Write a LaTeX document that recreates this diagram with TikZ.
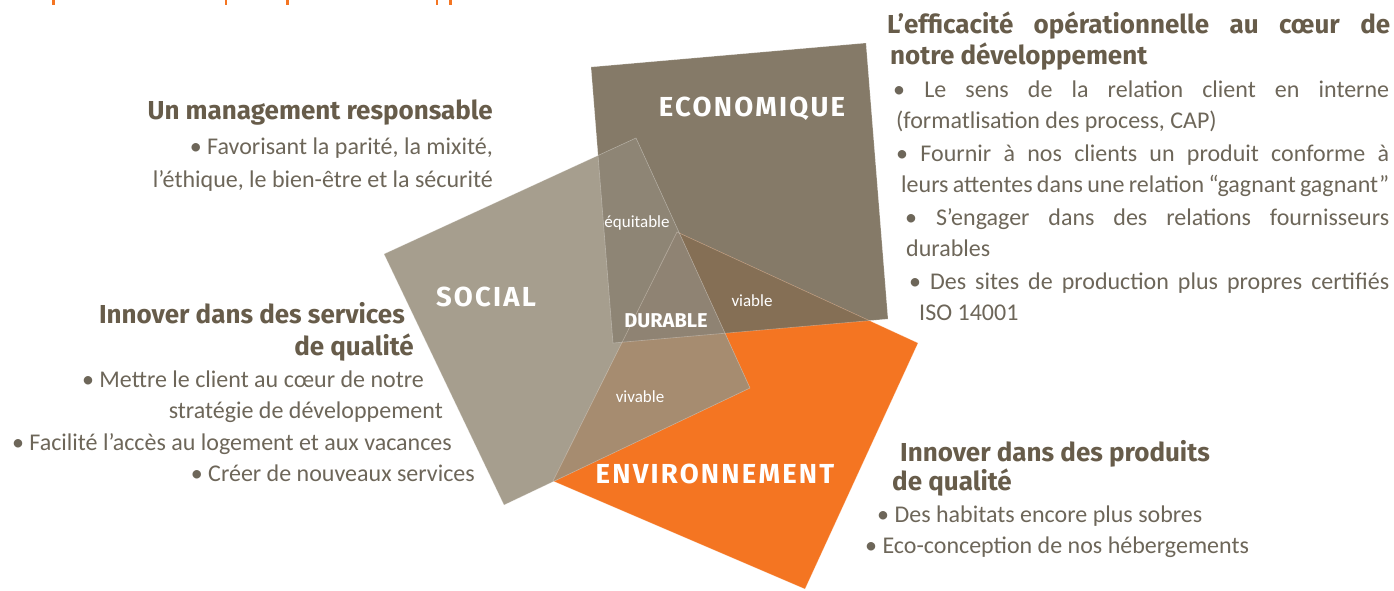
\documentclass[tikz,border=0pt]{standalone}
\usepackage{fontspec}
\setmainfont{Carlito}
\newfontfamily\headfont{Fira Sans}
\newfontfamily\labelfont{Fira Sans}[LetterSpace=8.0]
\usepackage{tikz}

\definecolor{socgray}{HTML}{A69E8E}
\definecolor{ecobrown}{HTML}{857A68}
\definecolor{envorange}{HTML}{F47522}
\definecolor{equitc}{HTML}{8E8575}
\definecolor{viablec}{HTML}{856F55}
\definecolor{vivablec}{HTML}{A68C70}
\definecolor{durablec}{HTML}{8F8373}
\definecolor{headc}{HTML}{675C4A}
\definecolor{bodyc}{HTML}{6D6659}

\tikzset{
	head/.style={font=\headfont\bfseries\fontsize{26}{30}\selectfont, text=headc, inner sep=0pt},
	body/.style={font=\fontsize{24}{28}\selectfont, text=bodyc, inner sep=0pt},
	biglabel/.style={font=\labelfont\bfseries\fontsize{27.5}{30}\selectfont, text=white, inner sep=0pt},
	midlabel/.style={font=\headfont\bfseries\fontsize{20}{22}\selectfont, text=white, inner sep=0pt},
	smalllabel/.style={font=\fontsize{17}{20}\selectfont, text=white, inner sep=0pt},
	rim/.style={white, opacity=0.3, line width=0.6pt}
}

\begin{document}
\begin{tikzpicture}[x=1pt,y=-1pt]
	\useasboundingbox (0,0) rectangle (1394,590);
	
	%corners of the three squares
	\coordinate (s1) at (384,254);	%social
	\coordinate (s2) at (636,138);
	\coordinate (s3) at (750,388);
	\coordinate (s4) at (504,505);
	\coordinate (e1) at (591,67);	%economique
	\coordinate (e2) at (866,43);
	\coordinate (e3) at (888,319);
	\coordinate (e4) at (613,343);
	\coordinate (v1) at (677,232);	%environnement
	\coordinate (v2) at (918,343);
	\coordinate (v3) at (805,589);
	\coordinate (v4) at (553,481);
	
	%remains of the title, cut at the top
	\foreach \xx in {52,224.5,286,435.5,449}
		\fill[envorange] (\xx,0) rectangle ++(2.7,5);
	
	%plain squares
	\fill[ecobrown] (e1)--(e2)--(e3)--(e4)--cycle;
	\fill[envorange] (v1)--(v2)--(v3)--(v4)--cycle;
	\fill[socgray] (s1)--(s2)--(s3)--(s4)--cycle;
	
	%overlaps
	\begin{scope}
		\clip (e1)--(e2)--(e3)--(e4)--cycle;
		\fill[viablec] (v1)--(v2)--(v3)--(v4)--cycle;	%viable
	\end{scope}
	\begin{scope}
		\clip (s1)--(s2)--(s3)--(s4)--cycle;
		\fill[equitc] (e1)--(e2)--(e3)--(e4)--cycle;	%equitable
		\fill[vivablec] (v1)--(v2)--(v3)--(v4)--cycle;	%vivable
		\clip (e1)--(e2)--(e3)--(e4)--cycle;
		\fill[durablec] (v1)--(v2)--(v3)--(v4)--cycle;	%durable
	\end{scope}
	
	%thin light rims
	\draw[rim] (s1)--(s2)--(s3)--(s4)--cycle;
	\draw[rim] (e1)--(e2)--(e3)--(e4)--cycle;
	\draw[rim] (v1)--(v2)--(v3)--(v4)--cycle;
	
	%names inside the squares
	\node[biglabel, anchor=base] (ecolabel) at (752,116) {ECONOMIQUE};
	\node[biglabel, anchor=base] (soclabel) at (486,306) {SOCIAL};
	\node[biglabel, anchor=base] (envlabel) at (715,483) {ENVIRONNEMENT};
	\node[midlabel, anchor=base] (durlabel) at (666,327) {DURABLE};
	\node[smalllabel, anchor=base] (equlabel) at (637,227) {équitable};
	\node[smalllabel, anchor=base] (vialabel) at (752,306) {viable};
	\node[smalllabel, anchor=base] (vivlabel) at (640,402) {vivable};
	
	%top left
	\node[head, anchor=base east] (mgmthead) at (493,119) {Un management responsable};
	\node[body, anchor=base east] (mgmtline1) at (493,154) {• Favorisant la parité, la mixité,};
	\node[body, anchor=base east] (mgmtline2) at (493,187) {l’éthique, le bien-être et la sécurité};
	
	%bottom left
	\node[head, anchor=base east] (servhead1) at (405,323) {Innover dans des services};
	\node[head, anchor=base east] (servhead2) at (414,355) {de qualité};
	\node[body, anchor=base east] (servline1) at (424,387) {• Mettre le client au cœur de notre};
	\node[body, anchor=base east] (servline2) at (443,418) {stratégie de développement};
	\node[body, anchor=base east] (servline3) at (452,450) {• Facilité l’accès au logement et aux vacances};
	\node[body, anchor=base east] (servline4) at (475,481) {• Créer de nouveaux services};
	
	%top right
	\node[head, anchor=base west] (ecohead1) at (887,33) {\makebox[503pt][s]{L’efficacité opérationnelle au cœur de}};
	\node[head, anchor=base west] (ecohead2) at (890,64) {notre développement};
	\node[body, anchor=base west] (ecoline1) at (893,97) {\makebox[496pt][s]{• Le sens de la relation client en interne}};
	\node[body, anchor=base west] (ecoline2) at (896,128) {(formatlisation des process, CAP)};
	\node[body, anchor=base west] (ecoline3) at (896,161) {\makebox[493pt][s]{• Fournir à nos clients un produit conforme à}};
	\node[body, anchor=base west] (ecoline4) at (901,192) {\makebox[488pt][s]{leurs attentes dans une relation “gagnant gagnant”}};
	\node[body, anchor=base west] (ecoline5) at (905,225) {\makebox[484pt][s]{• S’engager dans des relations fournisseurs}};
	\node[body, anchor=base west] (ecoline6) at (906,256) {durables};
	\node[body, anchor=base west] (ecoline7) at (909,289) {\makebox[480pt][s]{• Des sites de production plus propres certifiés}};
	\node[body, anchor=base west] (ecoline8) at (919,320) {ISO 14001};
	
	%bottom right
	\node[head, anchor=base west] (envhead1) at (900,461) {Innover dans des produits};
	\node[head, anchor=base west] (envhead2) at (892,490) {de qualité};
	\node[body, anchor=base west] (envline1) at (877,522) {• Des habitats encore plus sobres};
	\node[body, anchor=base west] (envline2) at (865,553) {• Eco-conception de nos hébergements};
\end{tikzpicture}
\end{document}
